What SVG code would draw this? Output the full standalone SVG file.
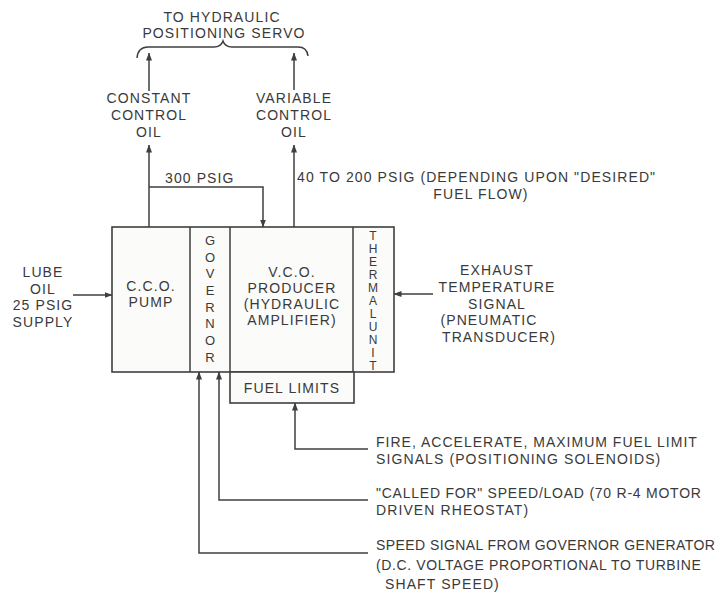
<svg xmlns="http://www.w3.org/2000/svg" width="725" height="597" viewBox="0 0 725 597">
<defs>
<style>
.t{font-family:"Liberation Sans",Arial,sans-serif;font-size:14px;letter-spacing:1.1px;fill:#3a3a3a}
.c{text-anchor:middle}
.v{font-family:"Liberation Sans",Arial,sans-serif;font-size:13px;fill:#3a3a3a;text-anchor:middle}
.vs{font-family:"Liberation Sans",Arial,sans-serif;font-size:12px;fill:#3a3a3a;text-anchor:middle}
.ln{fill:none;stroke:#3f3f3f;stroke-width:1.5}
.bx{fill:#fbfbf9;stroke:#3f3f3f;stroke-width:1.6}
</style>
<marker id="ah" markerWidth="8" markerHeight="12" refX="7.5" refY="3.5" orient="auto" markerUnits="userSpaceOnUse" viewBox="0 0 8 7">
<path d="M0,0.5 L8,3.5 L0,6.5 Z" fill="#3f3f3f"/>
</marker>
</defs>
<rect width="725" height="597" fill="#ffffff"/>

<g id="servo">
<text class="t c" x="222" y="22">TO HYDRAULIC</text>
<text class="t c" x="224" y="38">POSITIONING SERVO</text>
<path class="ln" d="M137,58 Q138,47 148,47 L214,47 Q221,47 223,41 Q225,47 232,47 L298,47 Q307,47 308,56"/>
</g>

<g id="cco-out">
<text class="t c" x="149" y="103">CONSTANT</text>
<text class="t c" x="149" y="120">CONTROL</text>
<text class="t c" x="149" y="137">OIL</text>
</g>
<g id="vco-out">
<text class="t c" x="294" y="103">VARIABLE</text>
<text class="t c" x="294" y="120">CONTROL</text>
<text class="t c" x="294" y="137">OIL</text>
</g>

<g id="main-box">
<rect class="bx" x="112" y="227" width="282" height="145"/>
<line class="ln" x1="190" y1="227" x2="190" y2="372"/>
<line class="ln" x1="230" y1="227" x2="230" y2="372"/>
<line class="ln" x1="353" y1="227" x2="353" y2="372"/>
</g>
<g id="cco-pump">
<text class="t c" x="151" y="291">C.C.O.</text>
<text class="t c" x="151" y="307">PUMP</text>
</g>
<g id="governor">
<text class="v" x="210" y="245">G</text>
<text class="v" x="210" y="262">O</text>
<text class="v" x="210" y="278">V</text>
<text class="v" x="210" y="295">E</text>
<text class="v" x="210" y="312">R</text>
<text class="v" x="210" y="328">N</text>
<text class="v" x="210" y="345">O</text>
<text class="v" x="210" y="362">R</text>
</g>
<g id="vco-producer">
<text class="t c" x="292" y="277">V.C.O.</text>
<text class="t c" x="292" y="293">PRODUCER</text>
<text class="t c" x="292" y="309">(HYDRAULIC</text>
<text class="t c" x="292" y="325">AMPLIFIER)</text>
</g>
<g id="thermal-unit">
<text class="vs" x="373" y="240">T</text>
<text class="vs" x="373" y="253">H</text>
<text class="vs" x="373" y="266">E</text>
<text class="vs" x="373" y="279">R</text>
<text class="vs" x="373" y="292">M</text>
<text class="vs" x="373" y="305">A</text>
<text class="vs" x="373" y="318">L</text>
<text class="vs" x="373" y="331">U</text>
<text class="vs" x="373" y="344">N</text>
<text class="vs" x="373" y="357">I</text>
<text class="vs" x="373" y="370">T</text>
</g>
<g id="fuel-limits">
<rect class="bx" x="230" y="372" width="124" height="31"/>
<text class="t c" x="292" y="393">FUEL LIMITS</text>
</g>

<g id="lube-oil">
<text class="t c" x="43" y="277">LUBE</text>
<text class="t c" x="43" y="294">OIL</text>
<text class="t c" x="43" y="310">25 PSIG</text>
<text class="t c" x="43" y="327">SUPPLY</text>
</g>
<g id="exhaust">
<text class="t c" x="497" y="275">EXHAUST</text>
<text class="t c" x="497" y="292">TEMPERATURE</text>
<text class="t c" x="497" y="309">SIGNAL</text>
<text class="t c" x="489" y="325">(PNEUMATIC</text>
<text class="t c" x="499" y="342">TRANSDUCER)</text>
</g>
<g id="pressure-labels">
<text class="t" x="165" y="183">300 PSIG</text>
<text class="t" x="297" y="182">40 TO 200 PSIG (DEPENDING UPON "DESIRED"</text>
<text class="t c" x="481" y="199">FUEL FLOW)</text>
</g>
<g id="signals">
<text class="t" x="376" y="447" textLength="322" lengthAdjust="spacing">FIRE, ACCELERATE, MAXIMUM FUEL LIMIT</text>
<text class="t" x="376" y="464">SIGNALS (POSITIONING SOLENOIDS)</text>
<text class="t" x="376" y="498" textLength="326" lengthAdjust="spacing">"CALLED FOR" SPEED/LOAD (70 R-4 MOTOR</text>
<text class="t" x="376" y="515">DRIVEN RHEOSTAT)</text>
<text class="t" x="376" y="550" textLength="340" lengthAdjust="spacing">SPEED SIGNAL FROM GOVERNOR GENERATOR</text>
<text class="t" x="376" y="570" textLength="326" lengthAdjust="spacing">(D.C. VOLTAGE PROPORTIONAL TO TURBINE</text>
<text class="t" x="385" y="589">SHAFT SPEED)</text>
</g>

<g id="connectors">
<path class="ln" d="M149,91 V53" marker-end="url(#ah)"/>
<path class="ln" d="M294,90 V53" marker-end="url(#ah)"/>
<path class="ln" d="M149,227 V145" marker-end="url(#ah)"/>
<path class="ln" d="M294,227 V145" marker-end="url(#ah)"/>
<path class="ln" d="M149,187 H263 V227" marker-end="url(#ah)"/>
<path class="ln" d="M73,295 H112" marker-end="url(#ah)"/>
<path class="ln" d="M433,294 H394" marker-end="url(#ah)"/>
<path class="ln" d="M368,449 H295 V403" marker-end="url(#ah)"/>
<path class="ln" d="M368,500 H219 V372" marker-end="url(#ah)"/>
<path class="ln" d="M368,553 H199 V372" marker-end="url(#ah)"/>
</g>
</svg>
